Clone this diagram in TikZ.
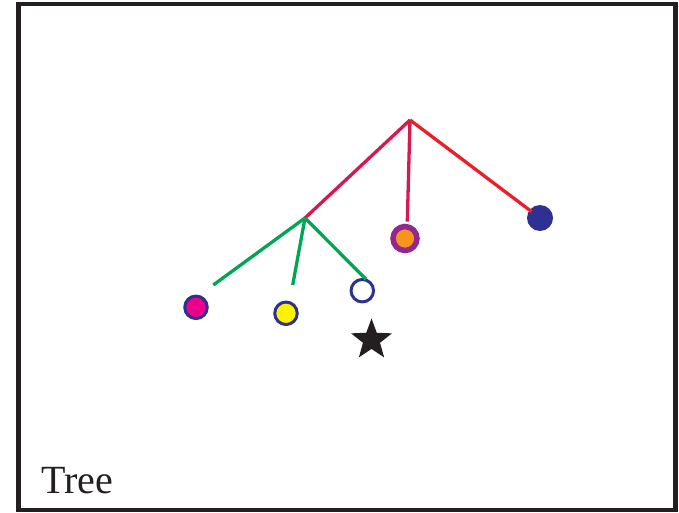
\documentclass[tikz,border=0pt]{standalone}
\usepackage{fontspec}
\setmainfont{Liberation Serif}
\usetikzlibrary{shapes.geometric}
\definecolor{framec}{HTML}{231F20}
\definecolor{crim}{HTML}{D7194F}
\definecolor{redl}{HTML}{E8202A}
\definecolor{greenl}{HTML}{00A651}
\definecolor{navy}{HTML}{2E3192}
\definecolor{magen}{HTML}{EC008C}
\definecolor{yel}{HTML}{FFF200}
\definecolor{purp}{HTML}{92278F}
\definecolor{oran}{HTML}{F7941D}
\begin{document}
\begin{tikzpicture}[x=1pt,y=-1pt,
  branch/.style={line width=3.3pt},
  leafc/.style={circle,draw=navy,line width=3pt,minimum size=22.5pt,inner sep=0pt}]
\useasboundingbox (0,0) rectangle (679,513);
\draw[framec,line width=4.5pt] (18.7,4) rectangle (675.3,510);
\coordinate (root) at (410,120);
\coordinate (mid) at (305,218);
\coordinate (e1) at (531.7,211.7);
\coordinate (e2) at (407.3,221.7);
\coordinate (g1) at (213.3,285);
\coordinate (g2) at (292.7,285);
\coordinate (g3) at (366,279.3);
\node[circle,fill=navy,minimum size=26pt,inner sep=0pt] (blue) at (540,218) {};
\node[circle,fill=oran,draw=purp,line width=5.5pt,minimum size=24pt,inner sep=0pt] (pur) at (405,238.5) {};
\node[leafc,fill=magen] (mag) at (196,307.3) {};
\node[leafc,fill=yel] (yl) at (286,313.3) {};
\node[leafc,fill=white] (wh) at (362.3,290.7) {};
\node[star,star points=5,star point ratio=2.4,fill=framec,minimum size=43pt,inner sep=0pt] (st) at (371.5,340) {};
\draw[branch,crim] (root) -- (mid);
\draw[branch,crim] (root) -- (e2);
\draw[branch,redl] (root) -- (e1);
\draw[branch,greenl] (mid) -- (g1);
\draw[branch,greenl] (mid) -- (g2);
\draw[branch,greenl] (mid) -- (g3);
\node[anchor=base west,inner sep=0pt,font=\fontsize{40}{40}\selectfont,text=framec] (lbl) at (41,493) {Tree};
\end{tikzpicture}
\end{document}
